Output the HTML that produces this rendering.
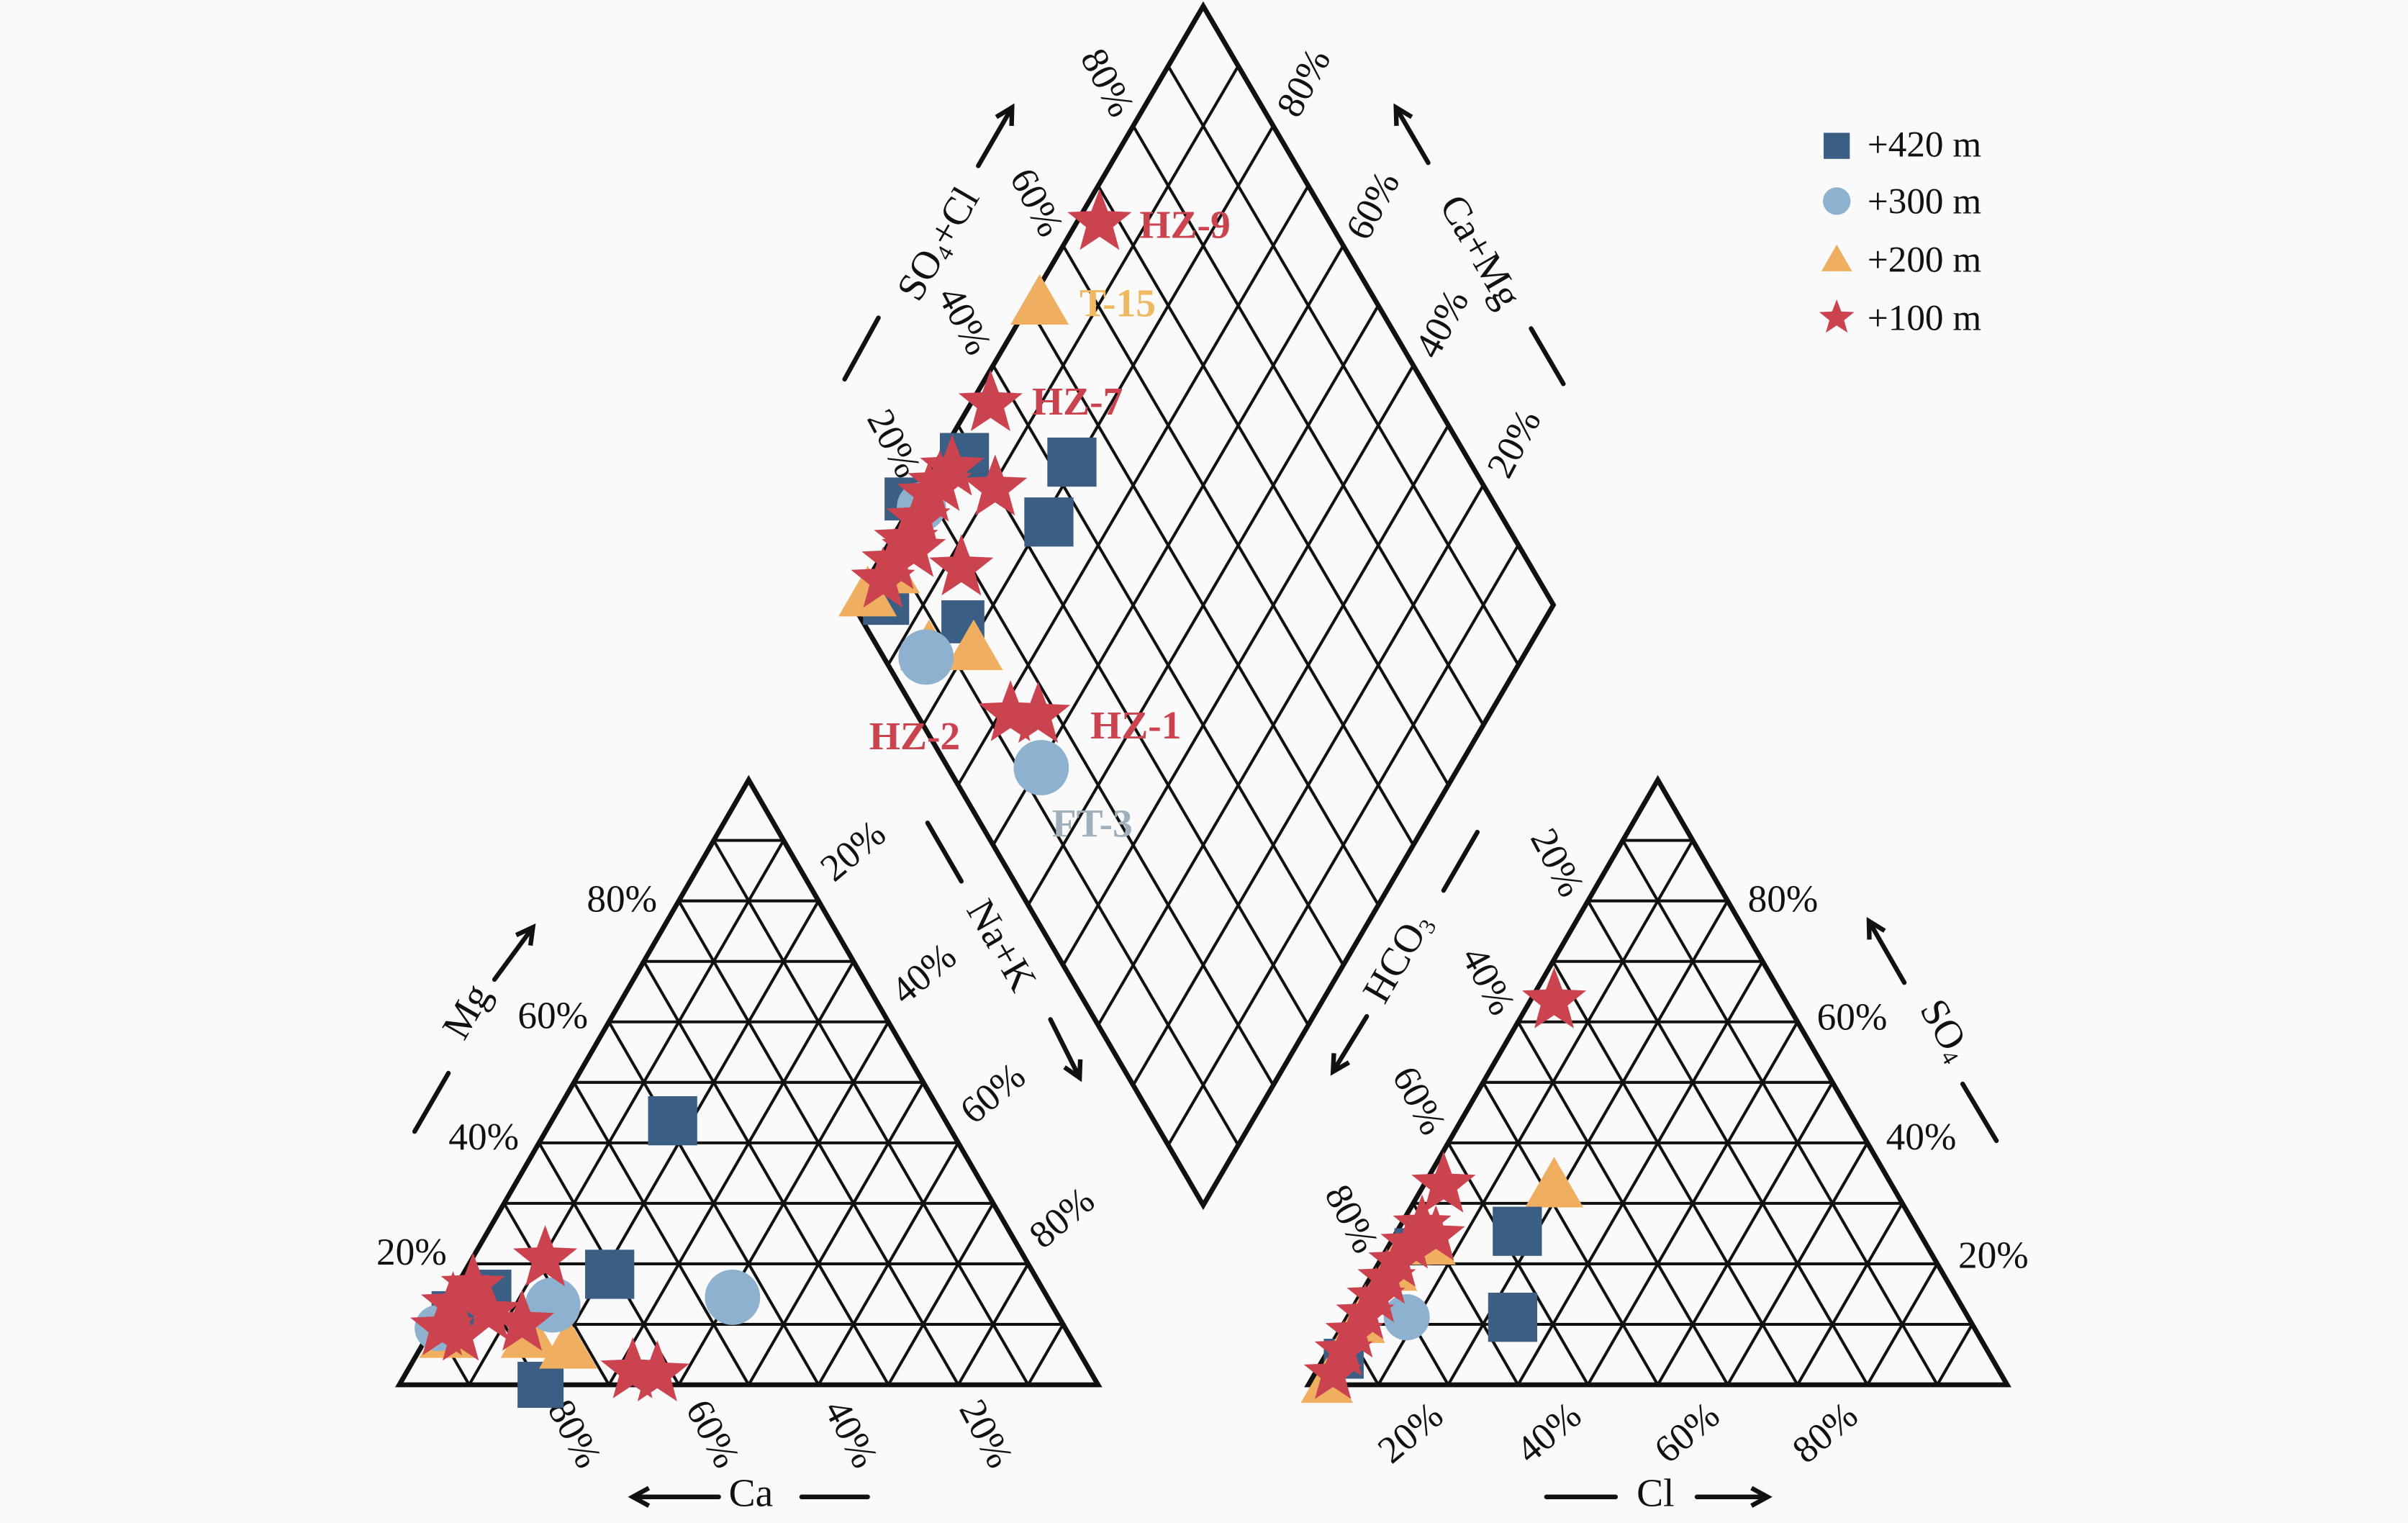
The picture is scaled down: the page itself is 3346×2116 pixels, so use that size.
<!DOCTYPE html>
<html><head><meta charset="utf-8"><style>
html,body{margin:0;padding:0;background:#fafafa;}
svg{display:block}
text{font-family:"Liberation Serif",serif;fill:#111;}
</style></head><body>
<svg id="s" width="3346" height="2116" viewBox="0 0 1568 992" preserveAspectRatio="none" xmlns="http://www.w3.org/2000/svg">
<rect width="1568" height="992" fill="#fafafa"/>
<g id="g"></g>
</svg>
<script>
var g=document.getElementById('g'),out='';
function L(x1,y1,x2,y2,w){out+='<line x1="'+x1+'" y1="'+y1+'" x2="'+x2+'" y2="'+y2+'" stroke="#111" stroke-width="'+(w||1.9)+'" stroke-linecap="round"/>';}
function lerp(a,b,t){return [a[0]+(b[0]-a[0])*t,a[1]+(b[1]-a[1])*t];}
function tri(A,B,C){
 for(var i=1;i<10;i++){var t=i/10;
  var p=lerp(A,C,t),q=lerp(B,C,t);L(p[0],p[1],q[0],q[1]);
  p=lerp(A,B,t);q=lerp(A,C,t);L(p[0],p[1],q[0],q[1]);
  p=lerp(A,B,t);q=lerp(B,C,1-t);L(p[0],p[1],q[0],q[1]);}
 out+='<polygon points="'+A+' '+B+' '+C+'" fill="none" stroke="#111" stroke-width="3.2" stroke-linejoin="miter"/>';
}
tri([260,902],[715,902],[487.5,508]);
tri([852,902],[1307,902],[1079.5,508]);
var T=[783.5,4],Lf=[555.5,394],R=[1011.5,394],Bt=[783.5,785];
for(var i=1;i<10;i++){var t=i/10;
 var p=lerp(Lf,T,t),q=lerp(Bt,R,t);L(p[0],p[1],q[0],q[1]);
 p=lerp(Lf,Bt,t);q=lerp(T,R,t);L(p[0],p[1],q[0],q[1]);}
out+='<polygon points="'+T+' '+R+' '+Bt+' '+Lf+'" fill="none" stroke="#111" stroke-width="3.2"/>';
function tx(x,y,s,rot,size,extra){out+='<text x="'+x+'" y="'+y+'" font-size="'+(size||25)+'" text-anchor="middle" dominant-baseline="middle"'+(rot?' transform="rotate('+rot+' '+x+' '+y+')"':'')+(extra||'')+'>'+s+'</text>';}
tx(268,818,'20%');tx(315,743,'40%');tx(360,664,'60%');tx(405,588,'80%');
tx(557,556,'20%',-40);tx(603,636,'40%',-40);tx(648,714,'60%',-40);tx(693,795,'80%',-40);
tx(372,935,'80%',62);tx(462,935,'60%',62);tx(552,935,'40%',62);tx(640,935,'20%',62);
tx(1012,563,'20%',62);tx(967,640,'40%',62);tx(922,718,'60%',62);tx(878,795,'80%',62);
tx(1161,588,'80%');tx(1206,665,'60%');tx(1251,743,'40%');tx(1298,820,'20%');
tx(920,935,'20%',-40);tx(1010,935,'40%',-40);tx(1100,935,'60%',-40);tx(1190,935,'80%',-40);
tx(580,290,'20%',62);tx(626,210,'40%',62);tx(673,133,'60%',62);tx(719,55,'80%',62);
tx(851,55,'80%',-62);tx(896,135,'60%',-62);tx(941,212,'40%',-62);tx(988,290,'20%',-62);
function arrow(x1,y1,x2,y2){L(x1,y1,x2,y2,3);var a=Math.atan2(y2-y1,x2-x1),h=12;
 out+='<polyline points="'+(x2-h*Math.cos(a-0.5))+','+(y2-h*Math.sin(a-0.5))+' '+x2+','+y2+' '+(x2-h*Math.cos(a+0.5))+','+(y2-h*Math.sin(a+0.5))+'" fill="none" stroke="#111" stroke-width="3"/>';}
tx(306,660,'Mg',-60,26);arrow(322,638,347,604);L(270,737,292,699,3);
tx(489,975,'Ca',0,26);arrow(468,975,412,975);L(522,975,565,975,3);
tx(650,617,'Na+K',60,26);L(604,536,626,574,3);arrow(684,664,703,702);
out+='<text x="912" y="625" font-size="26" text-anchor="middle" dominant-baseline="middle" transform="rotate(-60 912 625)">HCO<tspan font-size="15" dy="6">3</tspan></text>';
L(940,580,962,542,3);arrow(890,662,868,698);
tx(1078,975,'Cl',0,26);L(1007,975,1052,975,3);arrow(1105,975,1151,975);
out+='<text x="1265" y="672" font-size="26" text-anchor="middle" dominant-baseline="middle" transform="rotate(60 1265 672)">SO<tspan font-size="15" dy="6">4</tspan></text>';
arrow(1240,640,1217,600);L(1278,706,1300,743,3);
out+='<text x="613" y="160" font-size="26" text-anchor="middle" dominant-baseline="middle" transform="rotate(-60 613 160)">SO<tspan font-size="15" dy="6">4</tspan><tspan dy="-6">+Cl</tspan></text>';
arrow(637,108,659,70);L(572,207,550,247,3);
tx(962,165,'Ca+Mg',60,26);arrow(930,106,909,70);L(997,214,1018,250,3);
var SQ='#3b5f84',CI='#8db1ce',TR='#f0ae60',ST='#cc4350';
function sq(x,y,s){s=s||32;out+='<rect x="'+(x-s/2)+'" y="'+(y-s/2)+'" width="'+s+'" height="'+s+'" fill="'+SQ+'"/>';}
function ci(x,y,r){out+='<circle cx="'+x+'" cy="'+y+'" r="'+(r||18)+'" fill="'+CI+'"/>';}
function trg(x,y,s){s=s||38;var h=s*0.866;out+='<polygon points="'+(x-s/2)+','+(y+h/2)+' '+(x+s/2)+','+(y+h/2)+' '+x+','+(y-h/2)+'" fill="'+TR+'"/>';}
function st(x,y,r){r=r||22;var p='';for(var k=0;k<10;k++){var a=-Math.PI/2+k*Math.PI/5,rr=k%2?r*0.42:r;p+=(x+rr*Math.cos(a)).toFixed(1)+','+(y+rr*Math.sin(a)).toFixed(1)+' ';}out+='<polygon points="'+p+'" fill="'+ST+'"/>';}
sq(698,301);sq(683,340);sq(628,298);sq(577,392,30);sq(627,405,28);sq(590,325,28);
trg(565,385);trg(605,420);trg(634,420);trg(580,370);ci(603,428);ci(600,330,16);
st(620,305);st(648,318);st(605,322);st(598,338);st(590,352);st(582,366);st(575,378);st(612,315);st(626,370);st(595,358);
st(716,145);trg(677,195);st(645,263);st(658,465);st(676,466);ci(678,500);
out+='<text x="742" y="155" font-size="26" font-weight="bold" style="fill:'+ST+'">HZ-9</text>';
out+='<text x="703" y="206" font-size="26" font-weight="bold" style="fill:#f0b860">T-15</text>';
out+='<text x="672" y="270" font-size="26" font-weight="bold" style="fill:'+ST+'">HZ-7</text>';
out+='<text x="566" y="488" font-size="26" font-weight="bold" style="fill:'+ST+'">HZ-2</text>';
out+='<text x="710" y="481" font-size="26" font-weight="bold" style="fill:'+ST+'">HZ-1</text>';
out+='<text x="685" y="545" font-size="26" font-weight="bold" style="fill:#9fb0bb">FT-3</text>';
sq(438,730);sq(397,830);ci(477,845);sq(352,902,30);sq(295,855,28);sq(320,840,26);
trg(370,875);trg(345,868);trg(292,868);ci(360,850);ci(285,865,15);
st(355,820);st(308,838);st(295,850);st(288,865);st(318,855);st(300,870,20);st(340,862);st(412,893);st(428,895);
st(1012,652);trg(1012,770);st(940,772);sq(988,802);sq(985,858);
ci(916,858,15);sq(875,885,26);sq(920,812,24);
var cl=[[868,895],[875,880],[882,868],[889,856],[896,845],[903,833],[910,822],[918,810],[926,798],[935,805]];
cl.forEach(function(p,i){if(i%3==0)trg(p[0]-4,p[1]+4,34);});
cl.forEach(function(p){st(p[0],p[1],20);});
sq(1196,95,17);ci(1196,131,9);trg(1196,168,20);st(1196,207,12);
out+='<text x="1216" y="102" font-size="24">+420 m</text><text x="1216" y="139" font-size="24">+300 m</text><text x="1216" y="177" font-size="24">+200 m</text><text x="1216" y="215" font-size="24">+100 m</text>';
g.innerHTML=out;
</script>
</body></html>
